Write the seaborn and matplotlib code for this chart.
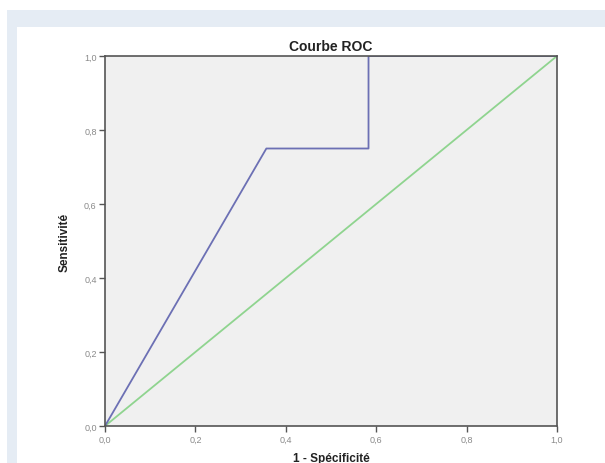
import matplotlib
matplotlib.use("Agg")
import matplotlib.pyplot as plt
import seaborn as sns
import pandas as pd
from matplotlib.patches import Rectangle

# Data
fpr = [0.0, 0.357, 0.583, 0.583, 1.0]
tpr = [0.0, 0.75, 0.75, 1.0, 1.0]
ref_x = [0.0, 1.0]
ref_y = [0.0, 1.0]
tick_vals = [0.0, 0.2, 0.4, 0.6, 0.8, 1.0]
tick_labels = ["0,0", "0,2", "0,4", "0,6", "0,8", "1,0"]
title = "Courbe ROC"
xlabel = "1 - Spécificité"
ylabel = "Sensitivité"

sns.set_style("white")
plt.rcParams['font.family'] = ['Liberation Sans', 'DejaVu Sans']

W, H = 605, 464
fig = plt.figure(figsize=(W / 100, H / 100), dpi=100)
fig.patch.set_facecolor("white")

def px_rect(x0, y0, x1, y1, color):
    fig.patches.append(Rectangle((x0 / W, 1 - y1 / H), (x1 - x0) / W, (y1 - y0) / H,
                                 transform=fig.transFigure, facecolor=color,
                                 edgecolor="none", zorder=-10))

px_rect(7, 11, 605, 464, "#e5ecf4")
px_rect(17, 28, 605, 464, "#ffffff")

ax = fig.add_axes([105 / W, 1 - 427 / H, (557 - 105) / W, (427 - 57) / H])
ax.set_facecolor("#f0f0f0")

df_roc = pd.DataFrame({"x": fpr, "y": tpr})
df_ref = pd.DataFrame({"x": ref_x, "y": ref_y})
sns.lineplot(data=df_ref, x="x", y="y", ax=ax, sort=False, estimator=None,
             color="#8fd48f", linewidth=1.3)
sns.lineplot(data=df_roc, x="x", y="y", ax=ax, sort=False, estimator=None,
             color="#6c70b4", linewidth=1.3)

ax.set_xlim(0, 1)
ax.set_ylim(0, 1)
ax.set_xticks(tick_vals)
ax.set_xticklabels(tick_labels)
ax.set_yticks(tick_vals)
ax.set_yticklabels(tick_labels)
ax.tick_params(axis="both", bottom=True, left=True, direction="out", length=4,
               width=1, color="#555555", labelsize=6.5, labelcolor="#8a8a8a", pad=2)

for s in ax.spines.values():
    s.set_visible(True)
    s.set_color("#555555")
    s.set_linewidth(1.2)

ax.set_title(title, fontsize=10, fontweight="bold", color="#222222", pad=4)
ax.set_xlabel(xlabel, fontsize=8.5, fontweight="bold", color="#222222", labelpad=6)
ax.set_ylabel(ylabel, fontsize=8.5, fontweight="bold", color="#222222", labelpad=10)

fig.savefig("out.png", dpi=100)
